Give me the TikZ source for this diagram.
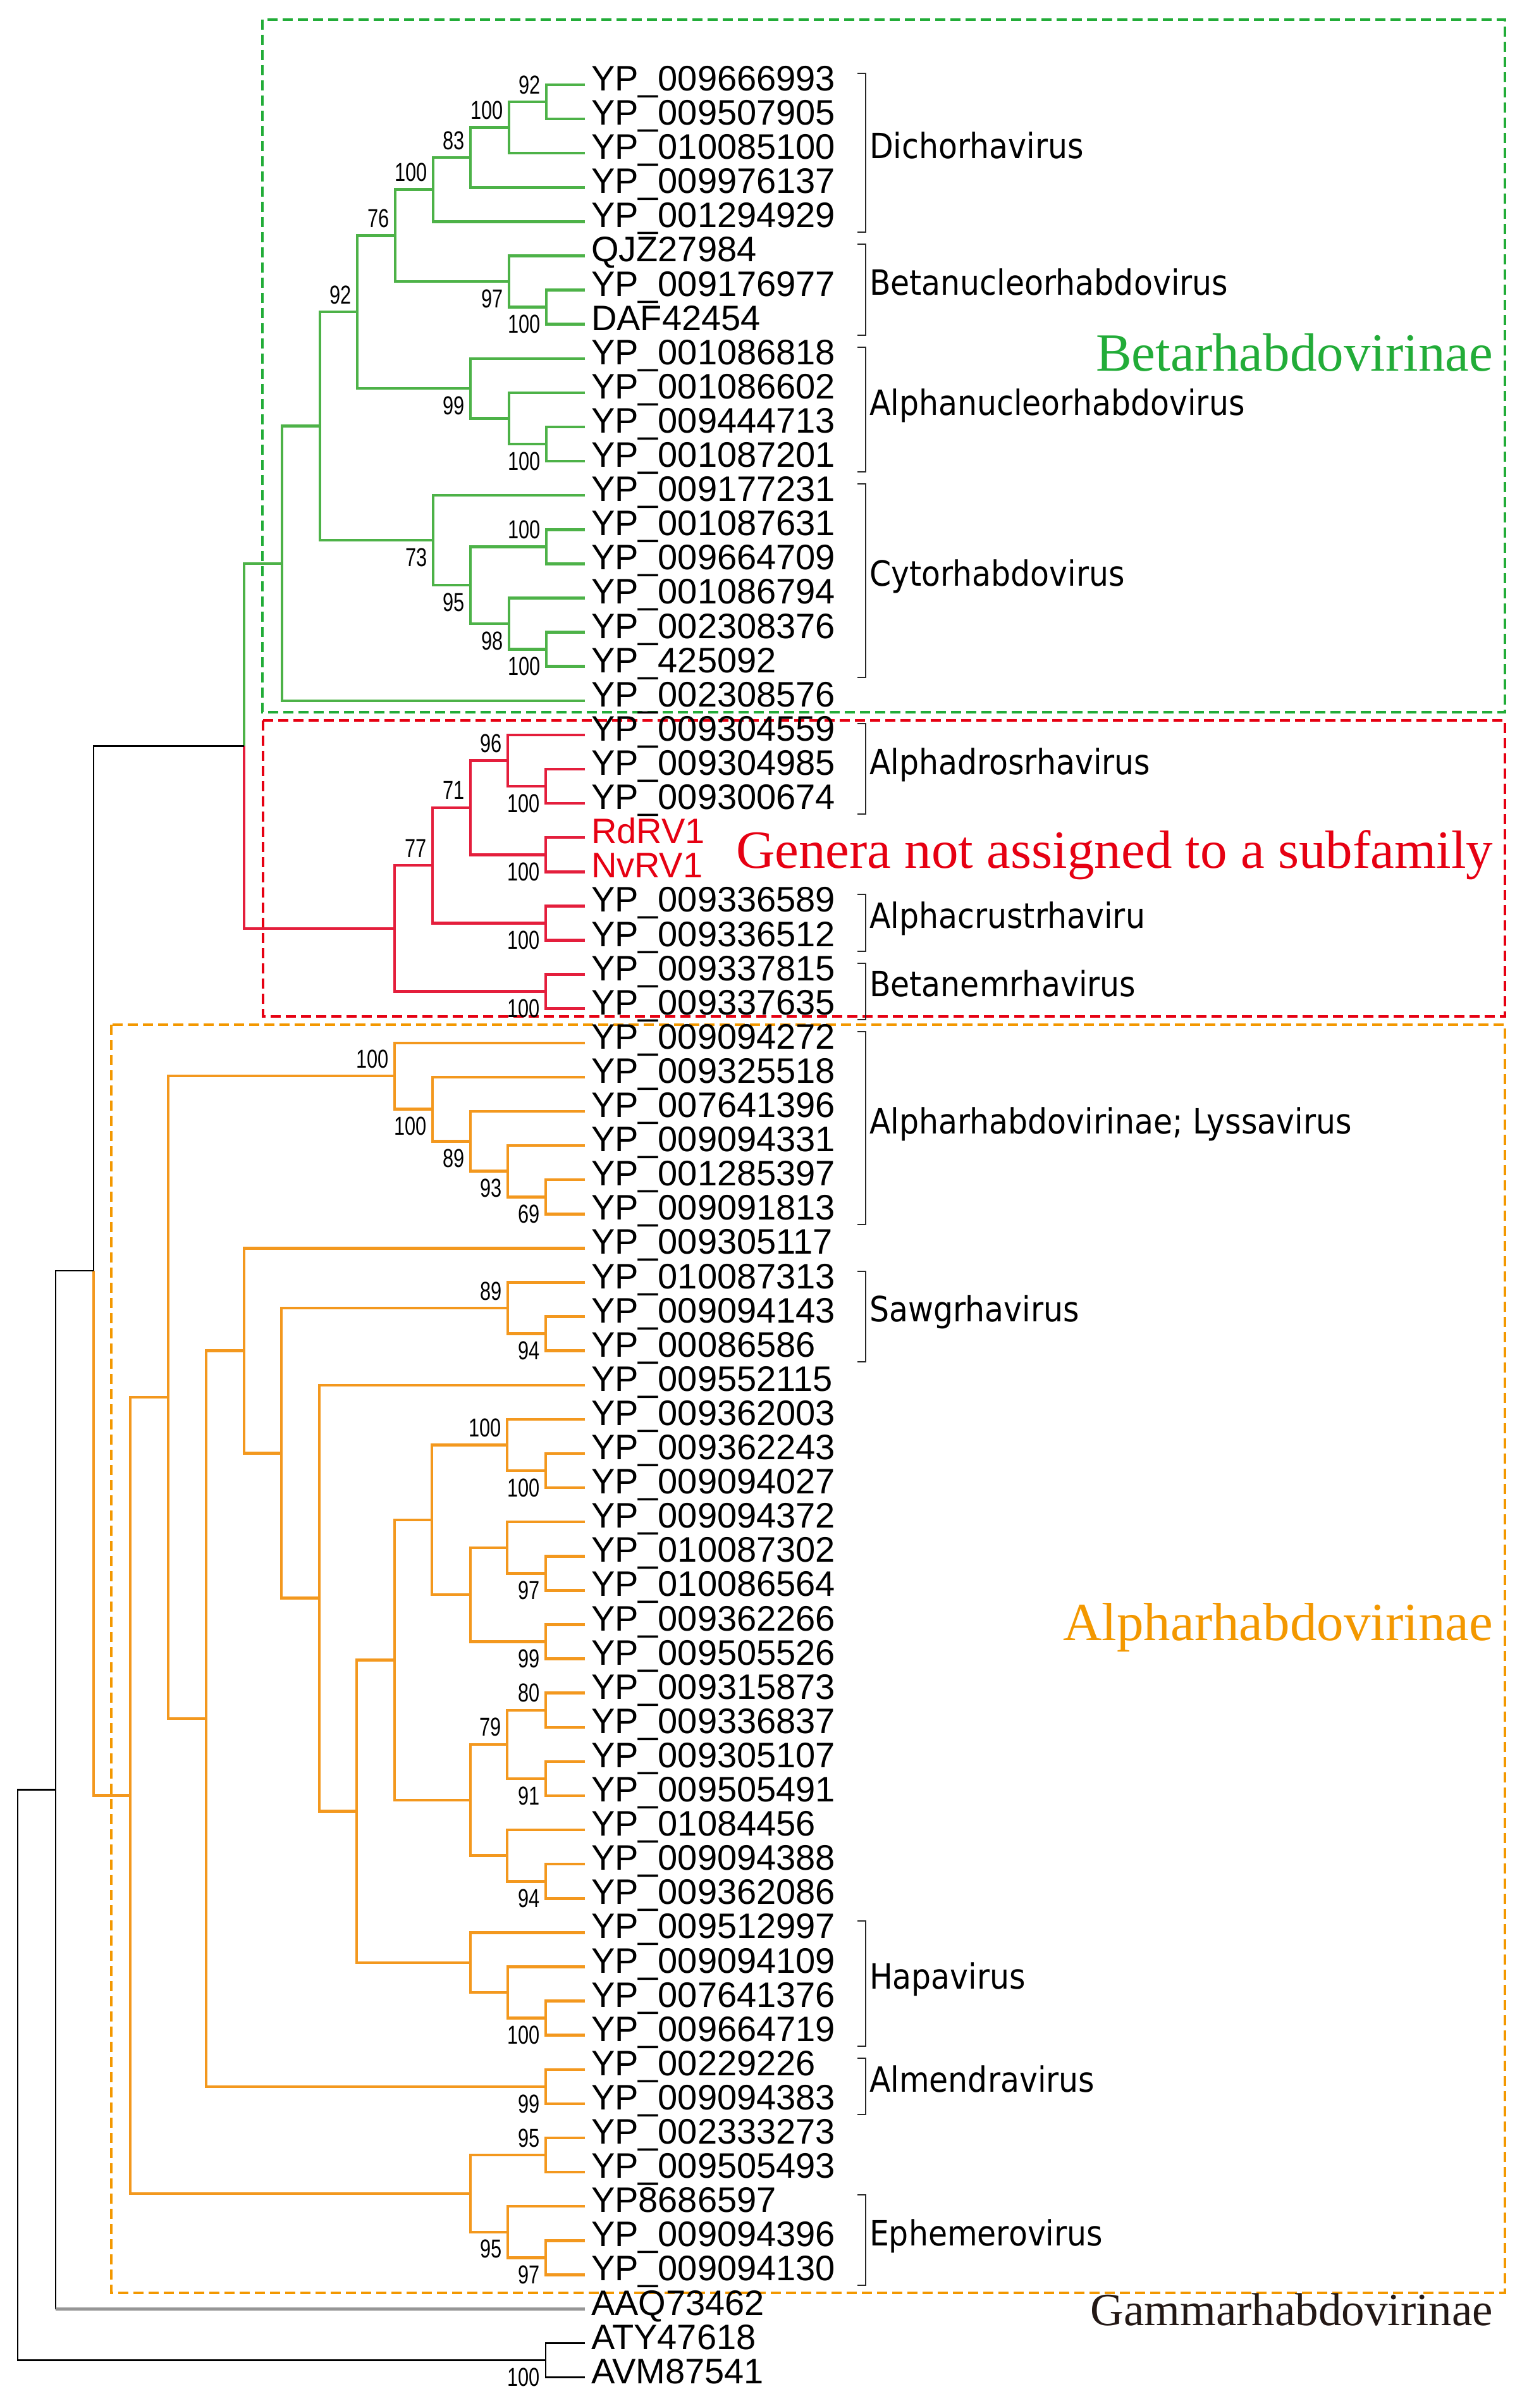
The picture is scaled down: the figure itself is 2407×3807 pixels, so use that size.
\documentclass[tikz,border=0pt]{standalone}
\usepackage{fontspec}
\setmainfont{Liberation Sans}
\newfontfamily\tipfont{Liberation Sans}
\newfontfamily\bsfont[FakeStretch=0.75]{Liberation Sans}
\newfontfamily\genfont[FakeStretch=0.89]{DejaVu Sans}
\newfontfamily\subfont{Liberation Serif}
\usetikzlibrary{calc}
\definecolor{tgreen}{RGB}{77,178,72}
\definecolor{tred}{RGB}{228,30,60}
\definecolor{torange}{RGB}{243,152,30}
\definecolor{bgreen}{RGB}{34,172,56}
\definecolor{bred}{RGB}{230,0,18}
\definecolor{borange}{RGB}{243,152,0}
\definecolor{gamtext}{RGB}{35,24,21}
\definecolor{brk}{RGB}{40,40,40}
\definecolor{aaqgray}{RGB}{150,150,150}
\newcommand\inode[4]{\path let \p1=($(#3)!0.5!(#4)$) in coordinate (#1) at ({#2*0.2pt},\y1);}
\newcommand\bsA[3]{\node[bs] (#1) at ([xshift=-1.6pt,yshift=5.4pt]#2) {#3};}
\newcommand\bsB[3]{\node[bs] (#1) at ([xshift=-1.6pt,yshift=-5.4pt]#2) {#3};}
\newcommand\genus[4]{%
  \draw[brline] (1356,{134+(#1-1)*54.1-18}) -- (1369,{134+(#1-1)*54.1-18}) -- (1369,{134+(#2-1)*54.1+17}) -- (1356,{134+(#2-1)*54.1+17});
  \node[genl] (#3) at (1374,{134+(#1+#2-2)/2*54.1-10}) {#4};}
\begin{document}
\begin{tikzpicture}[x=0.2pt,y=-0.2pt,
  tree/.style={line width=0.9pt, line join=miter},
  gl/.style={tree, draw=tgreen},
  rl/.style={tree, draw=tred},
  ol/.style={tree, draw=torange},
  bl/.style={line width=0.55pt, draw=black, line join=miter},
  aaq/.style={line width=0.85pt, draw=aaqgray},
  boxline/.style={line width=0.8pt, dash pattern=on 3.2pt off 1.6pt},
  tipl/.style={anchor=base west, inner sep=0pt, xshift=1.8pt, yshift=-1.9pt, font=\tipfont\fontsize{11.2}{13}\selectfont},
  bs/.style={anchor=east, inner sep=0pt, font=\bsfont\fontsize{8.2}{9}\selectfont},
  brline/.style={line width=0.4pt, draw=brk},
  genl/.style={anchor=west, inner sep=0pt, text height=0.73em, text depth=0pt, font=\genfont\fontsize{11}{13}\selectfont},
  subl/.style={anchor=base east, inner sep=0pt, font=\subfont\fontsize{17}{20}\selectfont}]
\useasboundingbox (0,0) rectangle (2407,3807);
% boxes
\draw[boxline, draw=bgreen] (415,31) rectangle (2380,1126);
\draw[boxline, draw=bred] (416,1139) rectangle (2380,1607);
\draw[boxline, draw=borange] (176,1620) rectangle (2380,3625);
% tips
\foreach \i in {1,...,68} \coordinate (c\i) at (925,{134+(\i-1)*54.1});
\foreach \i/\lab in {1/YP\_009666993,2/YP\_009507905,3/YP\_010085100,4/YP\_009976137,5/YP\_001294929,6/QJZ27984,7/YP\_009176977,8/DAF42454,9/YP\_001086818,10/YP\_001086602,11/YP\_009444713,12/YP\_001087201,13/YP\_009177231,14/YP\_001087631,15/YP\_009664709,16/YP\_001086794,17/YP\_002308376,18/YP\_425092,19/YP\_002308576,20/YP\_009304559,21/YP\_009304985,22/YP\_009300674,25/YP\_009336589,26/YP\_009336512,27/YP\_009337815,28/YP\_009337635,29/YP\_009094272,30/YP\_009325518,31/YP\_007641396,32/YP\_009094331,33/YP\_001285397,34/YP\_009091813,35/YP\_009305117,36/YP\_010087313,37/YP\_009094143,38/YP\_00086586,39/YP\_009552115,40/YP\_009362003,41/YP\_009362243,42/YP\_009094027,43/YP\_009094372,44/YP\_010087302,45/YP\_010086564,46/YP\_009362266,47/YP\_009505526,48/YP\_009315873,49/YP\_009336837,50/YP\_009305107,51/YP\_009505491,52/YP\_01084456,53/YP\_009094388,54/YP\_009362086,55/YP\_009512997,56/YP\_009094109,57/YP\_007641376,58/YP\_009664719,59/YP\_00229226,60/YP\_009094383,61/YP\_002333273,62/YP\_009505493,63/YP8686597,64/YP\_009094396,65/YP\_009094130,66/AAQ73462,67/ATY47618,68/AVM87541}
  \node[tipl] (L\i) at (c\i) {\lab};
\node[tipl, text=bred] (L23) at (c23) {RdRV1};
\node[tipl, text=bred] (L24) at (c24) {NvRV1};
% green internal nodes
\inode{g12}{864}{c1}{c2}
\inode{g123}{805}{g12}{c3}
\inode{g1234}{744}{g123}{c4}
\inode{gDic}{685}{g1234}{c5}
\inode{g78}{864}{c7}{c8}
\inode{gBet}{805}{c6}{g78}
\inode{gDB}{625}{gDic}{gBet}
\inode{g1112}{864}{c11}{c12}
\inode{g10}{805}{c10}{g1112}
\inode{gAlN}{744}{c9}{g10}
\inode{gDBA}{565}{gDB}{gAlN}
\inode{g1415}{864}{c14}{c15}
\inode{g1718}{864}{c17}{c18}
\inode{g16}{805}{c16}{g1718}
\inode{gC2}{744}{g1415}{g16}
\inode{gCyt}{685}{c13}{gC2}
\inode{gA}{506}{gDBA}{gCyt}
\inode{gB}{446}{gA}{c19}
% red
\inode{r2122}{863}{c21}{c22}
\inode{rA}{803}{c20}{r2122}
\inode{r2324}{863}{c23}{c24}
\inode{rB}{744}{rA}{r2324}
\inode{r2526}{863}{c25}{c26}
\inode{rC}{684}{rB}{r2526}
\inode{r2728}{863}{c27}{c28}
\inode{rD}{624}{rC}{r2728}
\inode{gr}{386}{gB}{rD}
% orange
\inode{o3334}{863}{c33}{c34}
\inode{oL1}{803}{c32}{o3334}
\inode{oL2}{744}{c31}{oL1}
\inode{oL3}{684}{c30}{oL2}
\inode{oLys}{624}{c29}{oL3}
\inode{o3738}{863}{c37}{c38}
\inode{oSaw}{803}{c36}{o3738}
\inode{o4142}{863}{c41}{c42}
\inode{oP}{802}{c40}{o4142}
\inode{o4445}{863}{c44}{c45}
\inode{oQ}{802}{c43}{o4445}
\inode{o4647}{863}{c46}{c47}
\inode{oR}{744}{oQ}{o4647}
\inode{oS}{683}{oP}{oR}
\inode{o4849}{863}{c48}{c49}
\inode{o5051}{863}{c50}{c51}
\inode{oT}{802}{o4849}{o5051}
\inode{o5354}{863}{c53}{c54}
\inode{oU}{802}{c52}{o5354}
\inode{oV}{744}{oT}{oU}
\inode{oW}{624}{oS}{oV}
\inode{o5758}{863}{c57}{c58}
\inode{oH1}{803}{c56}{o5758}
\inode{oHap}{744}{c55}{oH1}
\inode{oX}{564}{oW}{oHap}
\inode{oY}{505}{c39}{oX}
\inode{oZ}{445}{oSaw}{oY}
\inode{oZ2}{386}{c35}{oZ}
\inode{o5960}{863}{c59}{c60}
\inode{oZ3}{326}{oZ2}{o5960}
\inode{oZ4}{266}{oLys}{oZ3}
\inode{o6162}{863}{c61}{c62}
\inode{o6465}{863}{c64}{c65}
\inode{oE1}{803}{c63}{o6465}
\inode{oEph}{744}{o6162}{oE1}
\inode{oRoot}{206}{oZ4}{oEph}
% black
\inode{b148}{148}{gr}{oRoot}
\inode{b88}{88}{b148}{c66}
\inode{b6768}{863}{c67}{c68}
\inode{b28}{28}{b88}{b6768}
% green edges
\draw[gl] (c1) -| (g12) |- (c2);
\draw[gl] (g12) -| (g123) |- (c3);
\draw[gl] (g123) -| (g1234) |- (c4);
\draw[gl] (g1234) -| (gDic) |- (c5);
\draw[gl] (c7) -| (g78) |- (c8);
\draw[gl] (c6) -| (gBet) |- (g78);
\draw[gl] (gDic) -| (gDB) |- (gBet);
\draw[gl] (c11) -| (g1112) |- (c12);
\draw[gl] (c10) -| (g10) |- (g1112);
\draw[gl] (c9) -| (gAlN) |- (g10);
\draw[gl] (gDB) -| (gDBA) |- (gAlN);
\draw[gl] (c14) -| (g1415) |- (c15);
\draw[gl] (c17) -| (g1718) |- (c18);
\draw[gl] (c16) -| (g16) |- (g1718);
\draw[gl] (g1415) -| (gC2) |- (g16);
\draw[gl] (c13) -| (gCyt) |- (gC2);
\draw[gl] (gDBA) -| (gA) |- (gCyt);
\draw[gl] (gA) -| (gB) |- (c19);
\draw[gl] (gB) -| (gr);
% red edges
\draw[rl] (c21) -| (r2122) |- (c22);
\draw[rl] (c20) -| (rA) |- (r2122);
\draw[rl] (c23) -| (r2324) |- (c24);
\draw[rl] (rA) -| (rB) |- (r2324);
\draw[rl] (c25) -| (r2526) |- (c26);
\draw[rl] (rB) -| (rC) |- (r2526);
\draw[rl] (c27) -| (r2728) |- (c28);
\draw[rl] (rC) -| (rD) |- (r2728);
\draw[rl] (gr) |- (rD);
% orange edges
\draw[ol] (c33) -| (o3334) |- (c34);
\draw[ol] (c32) -| (oL1) |- (o3334);
\draw[ol] (c31) -| (oL2) |- (oL1);
\draw[ol] (c30) -| (oL3) |- (oL2);
\draw[ol] (c29) -| (oLys) |- (oL3);
\draw[ol] (c37) -| (o3738) |- (c38);
\draw[ol] (c36) -| (oSaw) |- (o3738);
\draw[ol] (c41) -| (o4142) |- (c42);
\draw[ol] (c40) -| (oP) |- (o4142);
\draw[ol] (c44) -| (o4445) |- (c45);
\draw[ol] (c43) -| (oQ) |- (o4445);
\draw[ol] (c46) -| (o4647) |- (c47);
\draw[ol] (oQ) -| (oR) |- (o4647);
\draw[ol] (oP) -| (oS) |- (oR);
\draw[ol] (c48) -| (o4849) |- (c49);
\draw[ol] (c50) -| (o5051) |- (c51);
\draw[ol] (o4849) -| (oT) |- (o5051);
\draw[ol] (c53) -| (o5354) |- (c54);
\draw[ol] (c52) -| (oU) |- (o5354);
\draw[ol] (oT) -| (oV) |- (oU);
\draw[ol] (oS) -| (oW) |- (oV);
\draw[ol] (c57) -| (o5758) |- (c58);
\draw[ol] (c56) -| (oH1) |- (o5758);
\draw[ol] (c55) -| (oHap) |- (oH1);
\draw[ol] (oW) -| (oX) |- (oHap);
\draw[ol] (c39) -| (oY) |- (oX);
\draw[ol] (oSaw) -| (oZ) |- (oY);
\draw[ol] (c35) -| (oZ2) |- (oZ);
\draw[ol] (c59) -| (o5960) |- (c60);
\draw[ol] (oZ2) -| (oZ3) |- (o5960);
\draw[ol] (oLys) -| (oZ4) |- (oZ3);
\draw[ol] (c61) -| (o6162) |- (c62);
\draw[ol] (c64) -| (o6465) |- (c65);
\draw[ol] (c63) -| (oE1) |- (o6465);
\draw[ol] (o6162) -| (oEph) |- (oE1);
\draw[ol] (oZ4) -| (oRoot) |- (oEph);
% black / outgroups
\draw[bl] (gr) -| (b148);
\draw[ol] (b148) |- (oRoot);
\draw[bl] (b148) -| (b88) -- (b88 |- c66);
\draw[aaq] (b88 |- c66) -- (c66);
\draw[bl] (c67) -| (b6768) |- (c68);
\draw[bl] (b88) -| (b28) |- (b6768);
% bootstrap values
\bsA{s1}{g12}{92}
\bsA{s2}{g123}{100}
\bsA{s3}{g1234}{83}
\bsA{s4}{gDic}{100}
\bsA{s5}{gDB}{76}
\bsB{s6}{g78}{100}
\bsB{s7}{gBet}{97}
\bsA{s8}{gDBA}{92}
\bsB{s9}{gAlN}{99}
\bsB{s10}{g1112}{100}
\bsB{s11}{gCyt}{73}
\bsB{s12}{gC2}{95}
\bsA{s13}{g1415}{100}
\bsB{s14}{g16}{98}
\bsB{s15}{g1718}{100}
\bsA{s16}{rA}{96}
\bsB{s17}{r2122}{100}
\bsA{s18}{rB}{71}
\bsB{s19}{r2324}{100}
\bsA{s20}{rC}{77}
\bsB{s21}{r2526}{100}
\bsB{s22}{r2728}{100}
\bsA{s23}{oLys}{100}
\bsB{s24}{oL3}{100}
\bsB{s25}{oL2}{89}
\bsB{s26}{oL1}{93}
\bsB{s27}{o3334}{69}
\bsA{s28}{oSaw}{89}
\bsB{s29}{o3738}{94}
\bsA{s30}{oP}{100}
\bsB{s31}{o4142}{100}
\bsB{s32}{o4445}{97}
\bsB{s33}{o4647}{99}
\bsA{s34}{o4849}{80}
\bsA{s35}{oT}{79}
\bsB{s36}{o5051}{91}
\bsB{s37}{o5354}{94}
\bsB{s38}{o5758}{100}
\bsB{s39}{o5960}{99}
\bsA{s40}{o6162}{95}
\bsB{s41}{oE1}{95}
\bsB{s42}{o6465}{97}
\bsB{s43}{b6768}{100}
% genus brackets
\genus{1}{5}{G1}{Dichorhavirus}
\genus{6}{8}{G2}{Betanucleorhabdovirus}
\genus{9}{12}{G3}{Alphanucleorhabdovirus}
\genus{13}{18}{G4}{Cytorhabdovirus}
\genus{20}{22}{G5}{Alphadrosrhavirus}
\genus{25}{26}{G6}{Alphacrustrhaviru}
\genus{27}{28}{G7}{Betanemrhavirus}
\genus{29}{34}{G8}{Alpharhabdovirinae; Lyssavirus}
\genus{36}{38}{G9}{Sawgrhavirus}
\genus{55}{58}{G10}{Hapavirus}
\genus{59}{60}{G11}{Almendravirus}
\genus{63}{65}{G12}{Ephemerovirus}
% subfamily labels
\node[subl, text=bgreen] (S1) at (2362,587) {Betarhabdovirinae};
\node[subl, text=bred] (S2) at (2362,1372) {Genera not assigned to a subfamily};
\node[subl, text=borange] (S3) at (2362,2593) {Alpharhabdovirinae};
\node[subl, text=gamtext, font=\subfont\fontsize{14.6}{17}\selectfont] (S4) at (2362,3676) {Gammarhabdovirinae};
\end{tikzpicture}
\end{document}
